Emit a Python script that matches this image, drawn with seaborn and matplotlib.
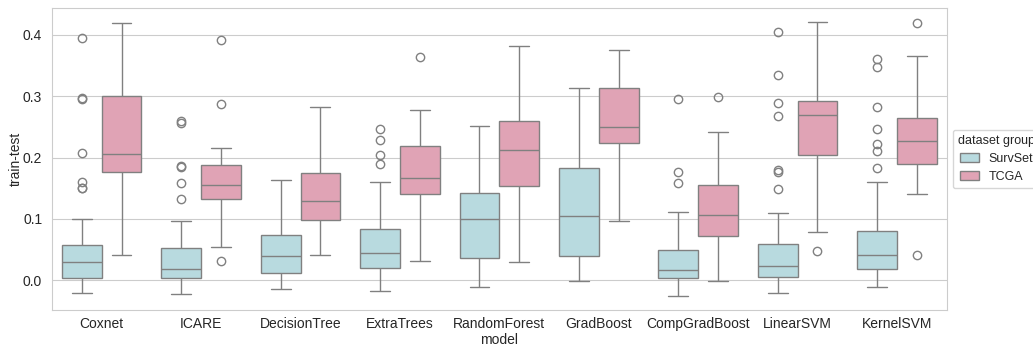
import pandas as pd
import matplotlib.pyplot as plt
import seaborn as sns

# --- data: train-test gap per dataset --- #
models = ["Coxnet", "ICARE", "DecisionTree", "ExtraTrees", "RandomForest",
          "GradBoost", "CompGradBoost", "LinearSVM", "KernelSVM"]
groups = ["SurvSet", "TCGA"]

survset_coxnet = [-0.020, -0.012, -0.006, -0.002, 0.000, 0.001, 0.002, 0.003, 0.004,
                  0.008, 0.012, 0.015, 0.019, 0.022, 0.025, 0.027, 0.029,
                  0.032, 0.036, 0.040, 0.044, 0.048, 0.052, 0.055, 0.057, 0.100,
                  0.150, 0.151, 0.160, 0.208, 0.296, 0.298, 0.395]
survset_icare = [-0.023, -0.015, -0.009, -0.005, -0.002, 0.000, 0.001, 0.003,
                 0.005, 0.007, 0.010, 0.012, 0.014, 0.016, 0.018,
                 0.022, 0.027, 0.032, 0.038, 0.043, 0.048, 0.052, 0.096,
                 0.132, 0.158, 0.184, 0.186, 0.256, 0.260]
survset_dtree = [-0.014, 0.004, 0.012, 0.025, 0.040, 0.055, 0.073, 0.110, 0.163]
survset_extra = [-0.017, -0.008, 0.002, 0.010, 0.016, 0.020,
                 0.026, 0.031, 0.036, 0.041, 0.045,
                 0.052, 0.060, 0.068, 0.076, 0.084, 0.160,
                 0.189, 0.204, 0.228, 0.247]
survset_rf = [-0.011, 0.005, 0.020, 0.036, 0.055, 0.080, 0.100, 0.115, 0.130, 0.142,
              0.170, 0.210, 0.252]
survset_gb = [-0.002, 0.012, 0.025, 0.039, 0.060, 0.085, 0.105, 0.130, 0.160, 0.183,
              0.220, 0.270, 0.313]
survset_cgb = [-0.025, -0.012, -0.004, 0.000, 0.003, 0.006, 0.010, 0.013, 0.016,
               0.022, 0.032, 0.042, 0.049, 0.111, 0.158, 0.177, 0.296]
survset_lsvm = [-0.021, -0.013, -0.007, -0.003, 0.000, 0.002, 0.003, 0.004, 0.005,
                0.008, 0.011, 0.014, 0.017, 0.019, 0.021, 0.022, 0.024,
                0.027, 0.031, 0.036, 0.041, 0.047, 0.052, 0.056, 0.059, 0.109,
                0.149, 0.177, 0.179, 0.268, 0.289, 0.334, 0.405]
survset_ksvm = [-0.011, -0.004, 0.001, 0.005, 0.009, 0.012, 0.015, 0.017, 0.018,
                0.021, 0.024, 0.028, 0.031, 0.034, 0.037, 0.039, 0.041,
                0.045, 0.050, 0.055, 0.061, 0.067, 0.072, 0.077, 0.080, 0.160,
                0.183, 0.210, 0.222, 0.246, 0.283, 0.347, 0.361]

tcga_coxnet = [0.041, 0.120, 0.160, 0.177, 0.185, 0.195, 0.206, 0.230, 0.270, 0.301,
               0.330, 0.380, 0.420]
tcga_icare = [0.032, 0.054, 0.110, 0.132, 0.142, 0.150, 0.155, 0.165, 0.178, 0.188,
              0.215, 0.288, 0.392]
tcga_dtree = [0.041, 0.070, 0.088, 0.098, 0.110, 0.120, 0.129, 0.140, 0.160, 0.175,
              0.200, 0.240, 0.283]
tcga_extra = [0.031, 0.090, 0.125, 0.140, 0.150, 0.160, 0.166, 0.180, 0.200, 0.219,
              0.240, 0.278, 0.364]
tcga_rf = [0.029, 0.090, 0.130, 0.154, 0.175, 0.195, 0.212, 0.225, 0.245, 0.259,
           0.290, 0.330, 0.382]
tcga_gb = [0.097, 0.160, 0.200, 0.224, 0.232, 0.242, 0.250, 0.265, 0.290, 0.313,
           0.330, 0.355, 0.375]
tcga_cgb = [-0.002, 0.030, 0.055, 0.072, 0.085, 0.097, 0.106, 0.120, 0.140, 0.155,
            0.190, 0.242, 0.299]
tcga_lsvm = [0.048, 0.079, 0.160, 0.205, 0.230, 0.255, 0.269, 0.278, 0.286, 0.292,
             0.330, 0.380, 0.421]
tcga_ksvm = [0.041, 0.140, 0.170, 0.190, 0.205, 0.218, 0.227, 0.240, 0.252, 0.264,
             0.300, 0.366, 0.420]

survset_vals = [survset_coxnet, survset_icare, survset_dtree, survset_extra, survset_rf,
                survset_gb, survset_cgb, survset_lsvm, survset_ksvm]
tcga_vals = [tcga_coxnet, tcga_icare, tcga_dtree, tcga_extra, tcga_rf,
             tcga_gb, tcga_cgb, tcga_lsvm, tcga_ksvm]

# --- long format frame --- #
rows = []
for group, vals in zip(groups, [survset_vals, tcga_vals]):
	for model, v in zip(models, vals):
		for x in v:
			rows.append({"model": model, "dataset group": group, "train-test": x})
df = pd.DataFrame(rows)

# --- plot --- #
sns.set_style("whitegrid")
plt.rcParams['font.family'] = ['Liberation Sans', 'DejaVu Sans']
plt.rcParams['font.size'] = 10
fig, ax = plt.subplots(figsize=(10.33, 3.46), dpi=100)
sns.boxplot(data=df, x="model", y="train-test", hue="dataset group",
            order=models, hue_order=groups,
            palette=["#b8dadf", "#e0a3b5"], saturation=1,
            linecolor="#808080", ax=ax)
ax.set_ylim(-0.0485, 0.444)
ax.tick_params(axis="x", pad=1.5)
ax.set_xlabel("model", labelpad=1.5)
ax.set_ylabel("train-test", labelpad=0)
sns.move_legend(ax, "center left", bbox_to_anchor=(1.0, 0.5),
                fontsize=9, title_fontsize=9, handlelength=1.5)
fig.subplots_adjust(left=0.0503, right=0.9165, top=0.977, bottom=0.104)
fig.savefig("out.png", dpi=100)
